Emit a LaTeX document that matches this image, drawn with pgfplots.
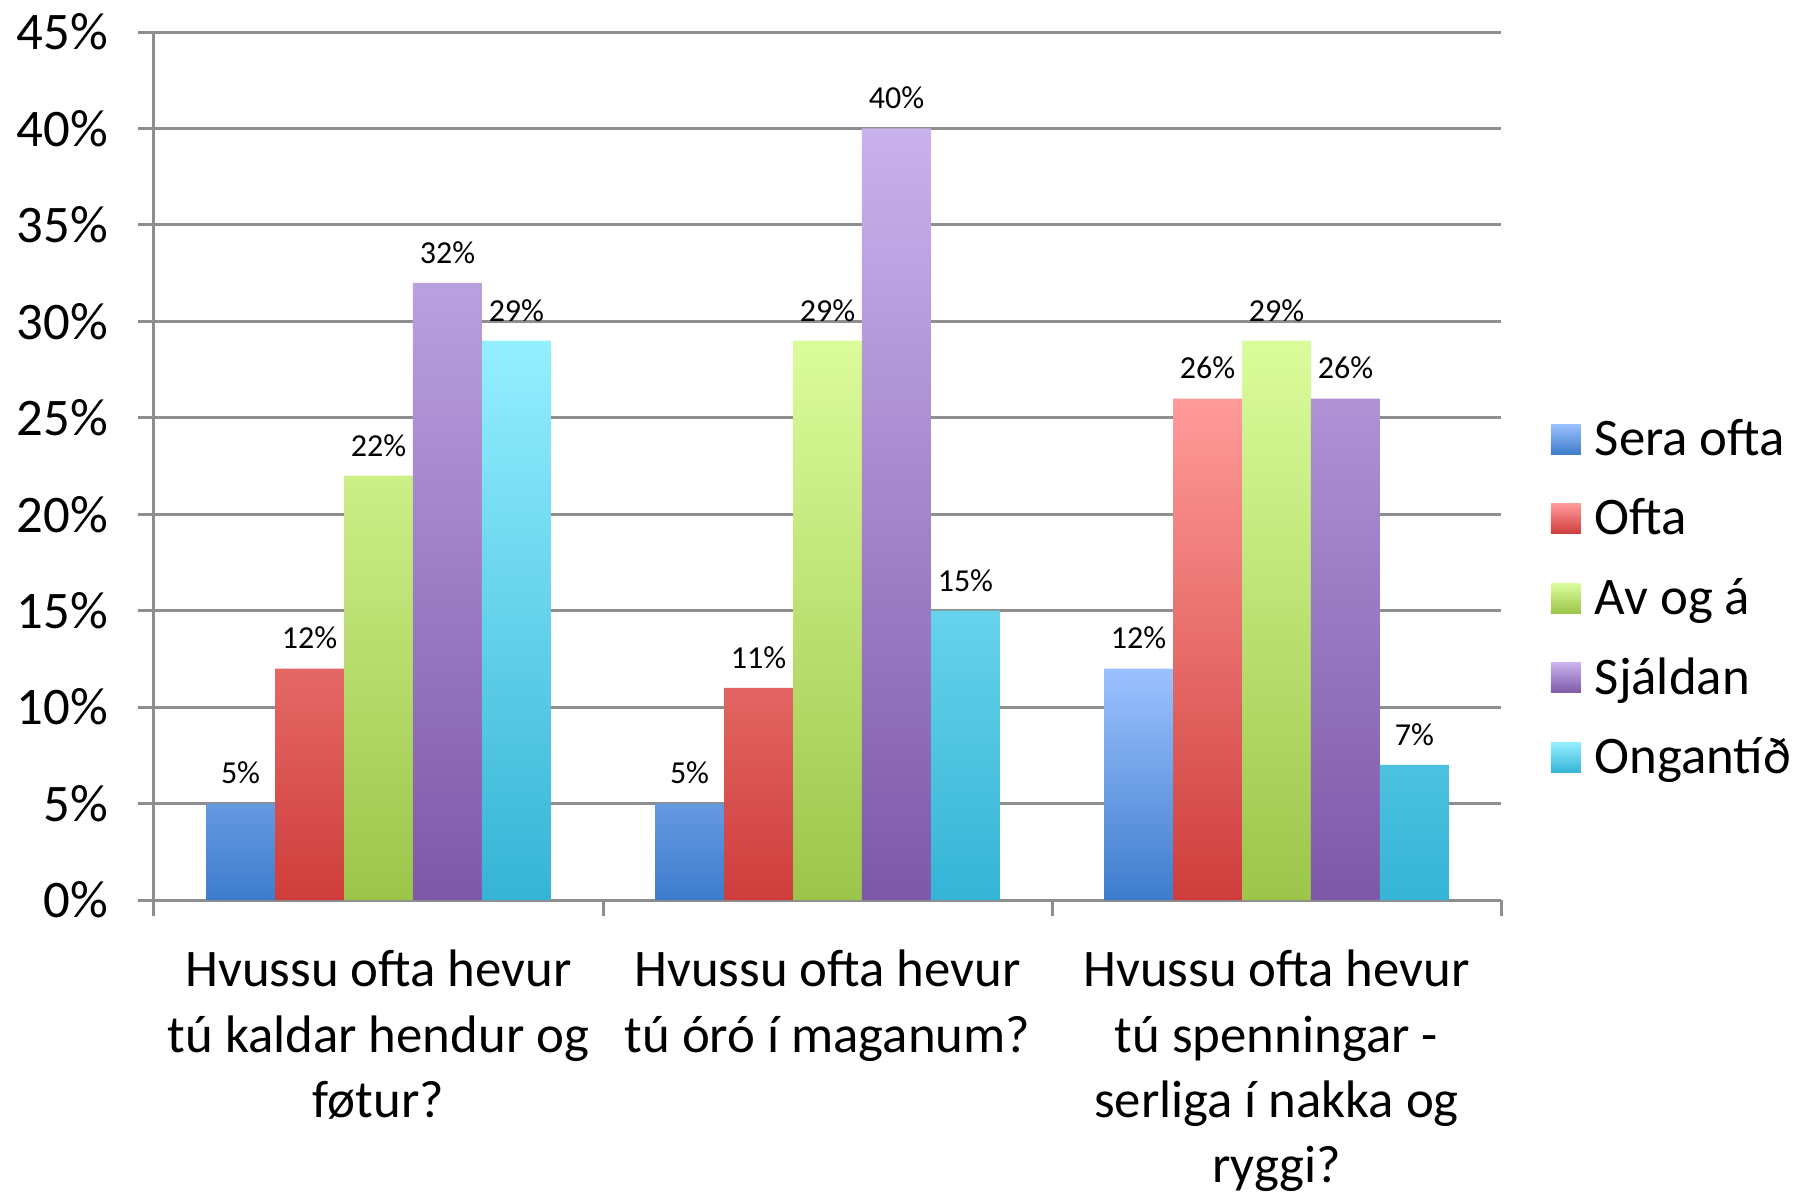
\documentclass[border=0pt]{standalone}
\usepackage{pgfplots}
\pgfplotsset{compat=1.18}
\usepackage{fontspec}
\setmainfont{Carlito}
\definecolor{gridc}{HTML}{8E8E8E}
\definecolor{bT}{HTML}{9CC1FF}\definecolor{bB}{HTML}{3E7DCC}
\definecolor{rT}{HTML}{FF9B99}\definecolor{rB}{HTML}{CE3D3B}
\definecolor{gT}{HTML}{DBFC9B}\definecolor{gB}{HTML}{9CC54A}
\definecolor{pT}{HTML}{C9B2ED}\definecolor{pB}{HTML}{7D58A8}
\definecolor{cT}{HTML}{94EFFF}\definecolor{cB}{HTML}{35B4D6}
\pgfplotsset{
  mybar/.style 2 args={draw=none, top color=#1, bottom color=#2,
    legend image code/.code={\path[draw=none,top color=#1,bottom color=#2] (0pt,-3.2pt) rectangle (7.5pt,4.3pt);}},
}
\newcommand{\bigf}{\fontsize{13.2}{16.3}\selectfont}
\begin{document}
\begin{tikzpicture}
\path[use as bounding box] (-38.5pt,-72.75pt) rectangle (411pt,225pt);
\begin{axis}[
  width=336.75pt, height=217pt, scale only axis,
  ybar=0pt, bar width=0.1536,
  xmin=-0.5, xmax=2.5, ymin=0, ymax=45,
  xtick={-0.5,0.5,1.5,2.5}, xticklabels={},
  extra x ticks={0,1,2},
  extra x tick labels={{Hvussu ofta hevur\\tú kaldar hendur og\\føtur?},{Hvussu ofta hevur\\tú óró í maganum?},{Hvussu ofta hevur\\tú spenningar -\\serliga í nakka og\\ryggi?}},
  extra x tick style={major tick length=0pt, grid=none,
    xticklabel style={align=center, font=\bigf, yshift=-9pt}},
  ytick={0,5,...,45},
  yticklabel={\pgfmathprintnumber{\tick}\%},
  yticklabel style={font=\bigf, xshift=-4pt},
  /pgf/number format/assume math mode=true,
  axis x line*=bottom, axis y line*=left,
  axis line style={gridc, line width=0.75pt, -},
  ymajorgrids, grid style={gridc, line width=0.75pt},
  major tick style={gridc, line width=0.75pt},
  tick align=outside, major tick length=4pt,
  clip=false,
  nodes near coords={\pgfmathprintnumber{\pgfplotspointmeta}\%},
  every node near coord/.append style={font=\fontsize{8}{9.6}\selectfont, black, yshift=1.3pt},
  legend style={at={(1.0364,0.345)}, anchor=west, draw=none, fill=none, inner sep=0pt,
    font=\bigf, row sep=6.9pt,
    nodes={inner sep=0pt, text height=10pt, text depth=3pt},
    /tikz/every odd column/.append style={column sep=3.5pt}},
  legend cell align=left,
]
\addplot[mybar={bT}{bB}] coordinates {(0,5) (1,5) (2,12)};
\addplot[mybar={rT}{rB}] coordinates {(0,12) (1,11) (2,26)};
\addplot[mybar={gT}{gB}] coordinates {(0,22) (1,29) (2,29)};
\addplot[mybar={pT}{pB}] coordinates {(0,32) (1,40) (2,26)};
\addplot[mybar={cT}{cB}] coordinates {(0,29) (1,15) (2,7)};
\legend{Sera ofta,Ofta,Av og á,Sjáldan,Ongantíð}
\end{axis}
\end{tikzpicture}
\end{document}
